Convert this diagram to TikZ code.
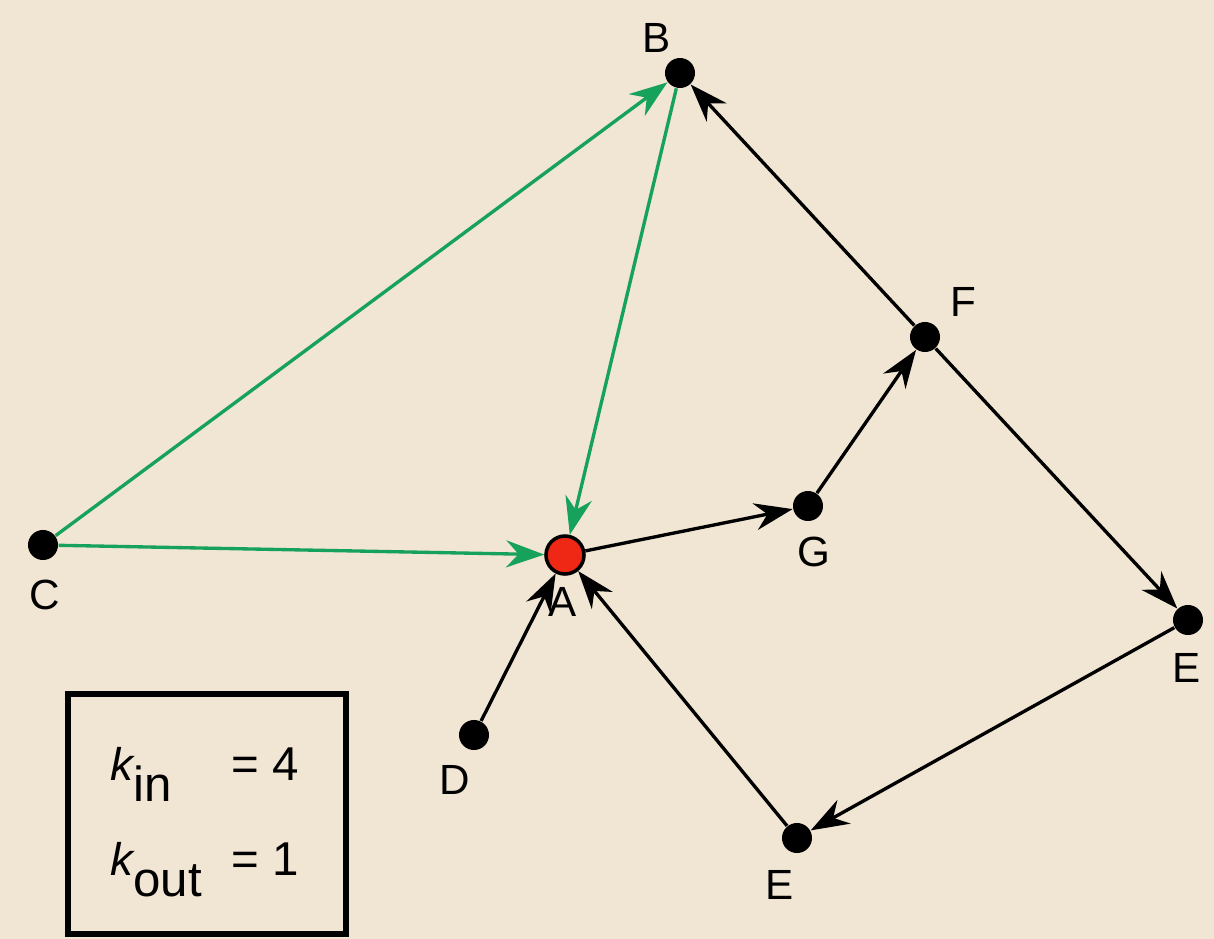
\documentclass[tikz,border=0pt]{standalone}
\usepackage{fontspec}
\setmainfont{Liberation Sans}
\usepackage{tikz}
\usetikzlibrary{arrows.meta, positioning}
\usepackage{xcolor}
\definecolor{paper}{RGB}{241,229,211}
\definecolor{accent}{RGB}{22,162,90}
\definecolor{hub}{RGB}{238,40,20}

\begin{document}
\begin{tikzpicture}[x=0.01cm, y=-0.01cm, font=\fontsize{12}{14}\selectfont,
  vertex/.style={circle, fill=black, inner sep=0pt, minimum size=0.3cm},
  link/.style={-{Stealth[length=0.38cm, width=0.27cm]}, line width=0.95pt}]
  % background
  \fill[paper] (0,0) rectangle (1214,939);
  % vertices
  \node[vertex] (B) at (680,73) {};
  \node[vertex] (F) at (925,337) {};
  \node[vertex] (G) at (808,506) {};
  \node[circle, fill=hub, draw=black, line width=1pt, inner sep=0pt,
        minimum size=0.38cm] (A) at (565,555) {};
  \node[vertex] (C) at (43,545) {};
  \node[vertex] (E1) at (1188,620) {};
  \node[vertex] (E2) at (797,838) {};
  \node[vertex] (D) at (474,735) {};
  % vertex names
  \node (labB) at (657,38) {B};
  \node (labF) at (963,302) {F};
  \node (labG) at (814,552) {G};
  \node (labA) at (563,602) {A};
  \node (labC) at (45,595) {C};
  \node (labE1) at (1187,668) {E};
  \node (labE2) at (780,885) {E};
  \node (labD) at (455,780) {D};
  % links into A's neighbourhood
  \draw[link, accent] (C) -- (B);
  \draw[link, accent] (B) -- (A);
  \draw[link, accent] (C) -- (A);
  \draw[link] (A) -- (G);
  \draw[link] (G) -- (F);
  \draw[link] (F) -- (B);
  \draw[link] (F) -- (E1);
  \draw[link] (E1) -- (E2);
  \draw[link] (E2) -- (A);
  \draw[link] (D) -- (A);
  % degree box
  \node[draw, line width=1.5pt, minimum width=2.78cm, minimum height=2.4cm]
    (legend) at (207,814) {};
  \node[anchor=base west, inner sep=0pt] (kin) at (110,780)
    {\fontsize{13}{15}\selectfont\itshape k\upshape\raisebox{-6pt}{\fontsize{14}{16}\selectfont in}};
  \node[anchor=base west, inner sep=0pt, font=\fontsize{13.5}{16}\selectfont]
    (vin) at (231,780) {= 4};
  \node[anchor=base west, inner sep=0pt] (kout) at (110,875)
    {\fontsize{13}{15}\selectfont\itshape k\upshape\raisebox{-6pt}{\fontsize{14}{16}\selectfont out}};
  \node[anchor=base west, inner sep=0pt, font=\fontsize{13.5}{16}\selectfont]
    (vout) at (231,875) {= 1};
\end{tikzpicture}
\end{document}
